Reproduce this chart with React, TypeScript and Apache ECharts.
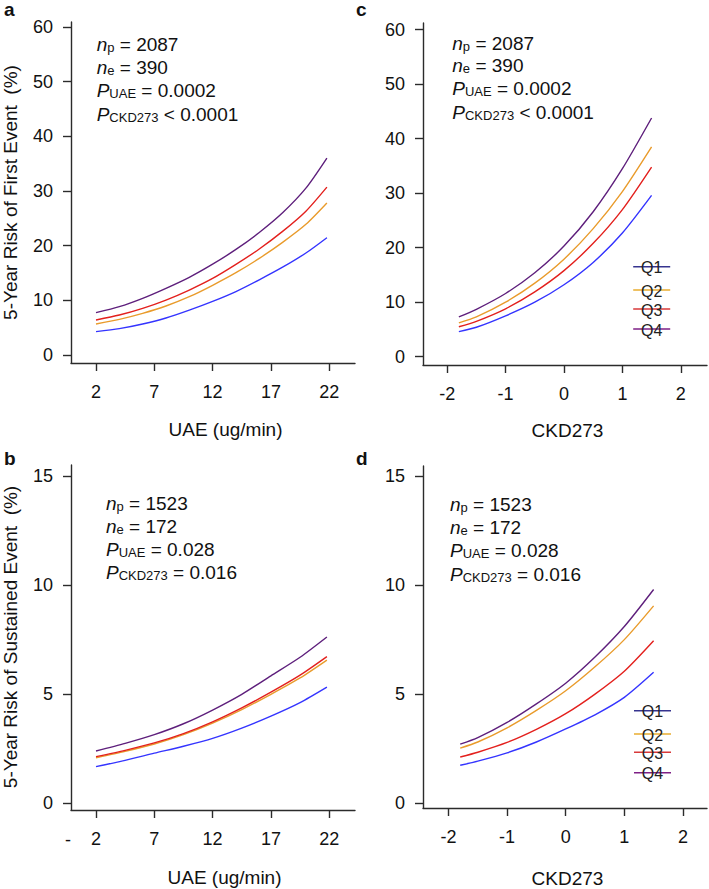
import React, { useEffect, useRef } from "react";
import * as echarts from "echarts";

const FONT = '"Liberation Sans", Arial, Helvetica, sans-serif';

// ---------- data ----------
const quartiles = ["Q1", "Q2", "Q3", "Q4"];
const curveColors = ["#3434ff", "#e99b2b", "#e3201d", "#5e1f7c"];
const legendColors = ["#36348f", "#e8ad2f", "#d8393a", "#7e1f86"];

// panel a: first event vs UAE
const uaeA = [2, 4, 6, 8, 10, 12, 14, 16, 18, 20, 21.8];
const aQ1 = [4.27, 4.82, 5.67, 6.76, 8.2, 9.8, 11.6, 13.75, 16.05, 18.65, 21.45];
const aQ2 = [5.67, 6.52, 7.62, 8.96, 10.66, 12.75, 15.05, 17.67, 20.6, 23.9, 27.8];
const aQ3 = [6.4, 7.31, 8.53, 10.05, 11.88, 14.0, 16.57, 19.38, 22.6, 26.3, 30.7];
const aQ4 = [7.74, 8.84, 10.36, 12.19, 14.2, 16.6, 19.3, 22.4, 26.0, 30.5, 36.0];

// panel b: sustained event vs UAE
const uaeB = [2, 4.5, 7, 9.5, 12, 14.5, 17, 19.5, 21.8];
const bQ1 = [1.68, 1.97, 2.3, 2.62, 2.98, 3.45, 4.0, 4.62, 5.33];
const bQ2 = [2.09, 2.38, 2.72, 3.15, 3.68, 4.3, 5.0, 5.75, 6.57];
const bQ3 = [2.14, 2.43, 2.77, 3.2, 3.74, 4.38, 5.1, 5.88, 6.73];
const bQ4 = [2.4, 2.75, 3.15, 3.65, 4.28, 5.0, 5.85, 6.7, 7.63];

// panel c: first event vs CKD273
const ckdX = [-1.8, -1.5, -1, -0.5, 0, 0.5, 1, 1.5];
const cQ1 = [4.6, 5.4, 7.5, 10.0, 13.2, 17.3, 22.7, 29.6];
const cQ2 = [6.2, 7.3, 10.0, 13.5, 17.9, 23.5, 30.3, 38.5];
const cQ3 = [5.5, 6.5, 8.8, 11.9, 15.8, 20.8, 27.0, 34.8];
const cQ4 = [7.3, 8.7, 11.6, 15.4, 20.3, 26.6, 34.5, 43.8];

// panel d: sustained event vs CKD273
const dQ1 = [1.73, 1.92, 2.3, 2.8, 3.4, 4.05, 4.85, 6.0];
const dQ2 = [2.52, 2.8, 3.45, 4.25, 5.15, 6.25, 7.5, 9.05];
const dQ3 = [2.11, 2.33, 2.78, 3.38, 4.1, 5.0, 6.05, 7.45];
const dQ4 = [2.7, 3.0, 3.7, 4.55, 5.5, 6.7, 8.1, 9.8];

// tick labels
const uaeTicks = [2, 7, 12, 17, 22];
const ckdTicks = [-2, -1, 0, 1, 2];
const firstTicks = [0, 10, 20, 30, 40, 50, 60];
const sustTicks = [0, 5, 10, 15];

// annotations
const statsFirst = [
  ["n", "p", " = 2087"],
  ["n", "e", " = 390"],
  ["P", "UAE", " = 0.0002"],
  ["P", "CKD273", " < 0.0001"],
];
const statsSust = [
  ["n", "p", " = 1523"],
  ["n", "e", " = 172"],
  ["P", "UAE", " = 0.028"],
  ["P", "CKD273", " = 0.016"],
];

const titleFirst = "5-Year Risk of First Event  (%)";
const titleSust = "5-Year Risk of Sustained Event  (%)";

// ---------- layout ----------
const grids = [
  { left: 71, top: 22, width: 284, height: 341 }, // a
  { left: 423, top: 23, width: 284, height: 342 }, // c
  { left: 71, top: 465, width: 284, height: 345 }, // b
  { left: 423, top: 466, width: 284, height: 342 }, // d
];
const xRanges = [
  [-0.144, 24.21],
  [-2.414, 2.449],
  [-0.144, 24.21],
  [-2.435, 2.411],
];
const yRanges = [
  [-1.46, 60.88],
  [-1.52, 61.23],
  [-0.307, 15.52],
  [-0.23, 15.47],
];

const axisColor = "#2b2b2b";

function makeX(i: number, ticks: number[]) {
  return {
    type: "value",
    gridIndex: i,
    min: xRanges[i][0],
    max: xRanges[i][1],
    splitLine: { show: false },
    axisLine: { show: true, onZero: false, lineStyle: { color: axisColor, width: 1.4 } },
    axisTick: { show: true, length: 8, customValues: ticks, lineStyle: { color: axisColor, width: 1.4 } },
    axisLabel: { customValues: ticks, fontSize: 18, fontFamily: FONT, color: "#111", margin: 20 },
  };
}
function makeY(i: number, ticks: number[]) {
  return {
    type: "value",
    gridIndex: i,
    min: yRanges[i][0],
    max: yRanges[i][1],
    splitLine: { show: false },
    axisLine: { show: true, onZero: false, lineStyle: { color: axisColor, width: 1.4 } },
    axisTick: { show: true, length: 8, customValues: ticks, lineStyle: { color: axisColor, width: 1.4 } },
    axisLabel: { customValues: ticks, fontSize: 18, fontFamily: FONT, color: "#111", margin: 18 },
  };
}

function makeSeries(i: number, xs: number[], sets: number[][]) {
  return sets.map((ys, k) => ({
    type: "line",
    name: quartiles[k],
    xAxisIndex: i,
    yAxisIndex: i,
    showSymbol: false,
    symbol: "none",
    smooth: 0.25,
    lineStyle: { color: curveColors[k], width: 1.4 },
    data: xs.map((x, j) => [x, ys[j]]),
    z: 2 + (k === 2 ? 1 : 0),
  }));
}

const rich = {
  i: { fontStyle: "italic", fontSize: 19, fontFamily: FONT, fill: "#111", verticalAlign: "bottom", lineHeight: 22 },
  s: { fontSize: 13, fontFamily: FONT, fill: "#111", verticalAlign: "bottom", lineHeight: 20 },
  t: { fontSize: 19, fontFamily: FONT, fill: "#111", verticalAlign: "bottom", lineHeight: 22 },
};

function statTexts(rows: string[][], x: number, ys: number[]) {
  return rows.map((r, k) => ({
    type: "text",
    x,
    y: ys[k],
    style: {
      text: `{i|${r[0]}}{s|${r[1]}}{t|${r[2]}}`,
      rich,
      align: "left",
      verticalAlign: "middle",
    },
  }));
}

function legend(xCenter: number, ys: number[]) {
  const els: any[] = [];
  quartiles.forEach((q, k) => {
    els.push({
      type: "line",
      shape: { x1: xCenter - 18.5, y1: ys[k], x2: xCenter + 18.5, y2: ys[k] },
      style: { stroke: legendColors[k], lineWidth: 1.6 },
    });
    els.push({
      type: "text",
      x: xCenter,
      y: ys[k] + 1,
      style: { text: q, fontSize: 16, fontFamily: FONT, fill: "#222", align: "center", verticalAlign: "middle" },
    });
  });
  return els;
}

function letter(t: string, x: number, y: number) {
  return {
    type: "text",
    x,
    y,
    style: { text: t, fontSize: 19, fontWeight: "bold", fontFamily: FONT, fill: "#111", align: "left", verticalAlign: "top" },
  };
}

function plainText(t: string, x: number, y: number, size: number, rot = 0) {
  return {
    type: "text",
    x,
    y,
    rotation: rot,
    style: { text: t, fontSize: size, fontFamily: FONT, fill: "#111", align: "center", verticalAlign: "middle" },
  };
}

export default function App() {
  const ref = useRef<HTMLDivElement>(null);
  useEffect(() => {
    if (!ref.current) return;
    const chart = echarts.init(ref.current, undefined, { renderer: "svg" });
    const option: any = {
      animation: false,
      backgroundColor: "#ffffff",
      grid: grids.map((g) => ({ ...g, containLabel: false })),
      xAxis: [makeX(0, uaeTicks), makeX(1, ckdTicks), makeX(2, uaeTicks), makeX(3, ckdTicks)],
      yAxis: [makeY(0, firstTicks), makeY(1, firstTicks), makeY(2, sustTicks), makeY(3, sustTicks)],
      series: [
        ...makeSeries(0, uaeA, [aQ1, aQ2, aQ3, aQ4]),
        ...makeSeries(1, ckdX, [cQ1, cQ2, cQ3, cQ4]),
        ...makeSeries(2, uaeB, [bQ1, bQ2, bQ3, bQ4]),
        ...makeSeries(3, ckdX, [dQ1, dQ2, dQ3, dQ4]),
      ],
      graphic: [
        letter("a", 4, 0),
        letter("c", 356, 0),
        letter("b", 4, 449),
        letter("d", 356, 449),
        plainText(titleFirst, 10.5, 192.5, 19, Math.PI / 2),
        plainText(titleSust, 10.5, 637, 19, Math.PI / 2),
        plainText("UAE (ug/min)", 225.5, 429.5, 19),
        plainText("CKD273", 567.5, 430, 19),
        plainText("UAE (ug/min)", 224.5, 877.5, 19),
        plainText("CKD273", 567.5, 878, 19),
        plainText("-", 68, 840, 18),
        ...statTexts(statsFirst, 96.7, [42.5, 66, 89.3, 112.7]),
        ...statTexts(statsFirst, 452.3, [41.7, 64, 87.3, 110.7]),
        ...statTexts(statsSust, 106, [501.7, 525, 547.7, 571]),
        ...statTexts(statsSust, 450, [502.7, 526, 549.3, 572.7]),
        ...legend(651.7, [266.7, 290, 309, 329]),
        ...legend(652.5, [710.7, 734, 752.3, 772.7]),
      ],
    };
    chart.setOption(option);
    return () => chart.dispose();
  }, []);
  return (
    <div
      ref={ref}
      style={{ position: "absolute", left: 0, top: 0, width: 709, height: 889, background: "#fff" }}
    />
  );
}
